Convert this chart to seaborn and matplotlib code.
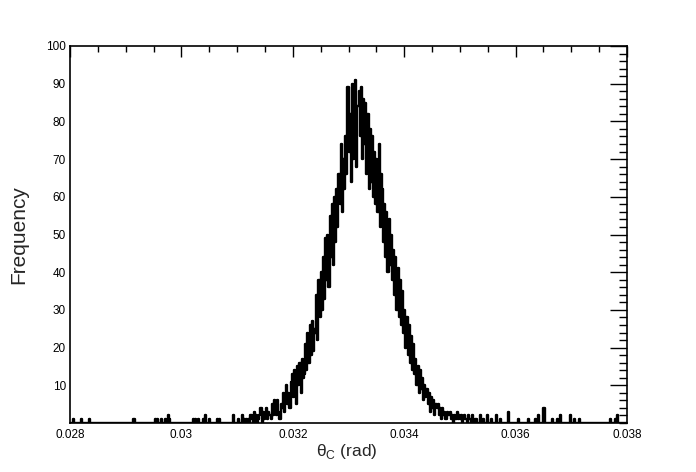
import numpy as np
import pandas as pd
import seaborn as sns
import matplotlib as mpl
from matplotlib import pyplot as plt
from matplotlib.ticker import MultipleLocator

sns.set_style("white")
mpl.rcParams["font.family"] = ["Liberation Sans", "DejaVu Sans"]

# histogram binning (rad)
X_MIN = 0.028
X_MAX = 0.038
BIN_WIDTH = 2e-5

# core of the distribution: consecutive bins starting at CORE_START
CORE_START = 0.0310
core_counts = [
    0, 1, 0, 0, 2, 0, 1, 0, 1, 0,
    1, 0, 2, 1, 0, 3, 0, 2, 0, 1,
    2, 4, 0, 3, 1, 2, 4, 1, 3, 2,
    1, 5, 2, 6, 3, 2, 6, 3, 1, 5,
    4, 8, 3, 7, 10, 5, 8, 4, 11, 13,
    7, 14, 9, 5, 15, 10, 16, 8, 17, 12,
    13, 21, 14, 24, 16, 26, 18, 27, 19, 25,
    24, 34, 22, 38, 28, 40, 30, 44, 33, 49,
    38, 50, 36, 55, 44, 58, 42, 60, 48, 62,
    52, 66, 58, 74, 56, 70, 62, 76, 66, 89,
    72, 82, 64, 90, 70, 86, 91, 68, 84, 88,
    76, 89, 70, 86, 74, 85, 66, 82, 62, 78,
    64, 76, 60, 72, 58, 70, 56, 74, 52, 66,
    62, 48, 58, 44, 56, 40, 54, 42, 50, 38,
    46, 34, 44, 30, 41, 28, 38, 26, 35, 24,
    30, 20, 28, 18, 26, 16, 23, 14, 21, 13,
    17, 10, 15, 8, 14, 9, 12, 6, 10, 7,
    9, 5, 8, 3, 7, 4, 6, 2, 5, 4,
    5, 2, 4, 1, 4, 2, 3, 1, 3, 2,
    2, 3, 1, 2, 0, 2, 1, 3, 1, 2,
    1, 2, 0, 1, 2, 1, 0, 2, 1, 1,
]

# isolated entries in the tails
tail_theta = [
    0.02807, 0.02821, 0.02834, 0.02916, 0.02953, 0.02958, 0.02965,
    0.02971, 0.02976, 0.02980, 0.03020, 0.03026, 0.03032, 0.03039,
    0.03044, 0.03051, 0.03064, 0.03069, 0.03093,
    0.03524, 0.03529, 0.03536, 0.03543, 0.03550, 0.03558, 0.03565,
    0.03572, 0.03586, 0.03604, 0.03622, 0.03635, 0.03640, 0.03651,
    0.03667, 0.03674, 0.03681, 0.03699, 0.03705, 0.03716, 0.03771,
    0.03778, 0.03784,
]
tail_counts = [
    1, 1, 1, 1, 1, 1, 1,
    1, 2, 1, 1, 1, 1, 1,
    2, 1, 1, 1, 2,
    2, 1, 2, 1, 2, 1, 2,
    1, 3, 1, 1, 1, 2, 4,
    1, 1, 2, 2, 1, 1, 1,
    1, 2,
]

x_ticks = [0.028, 0.030, 0.032, 0.034, 0.036, 0.038]
x_tick_labels = ["0.028", "0.03", "0.032", "0.034", "0.036", "0.038"]
y_ticks = [10, 20, 30, 40, 50, 60, 70, 80, 90, 100]

# build binned table
n_bins = int(round((X_MAX - X_MIN) / BIN_WIDTH))
edges = np.linspace(X_MIN, X_MAX, n_bins + 1)
counts = np.zeros(n_bins)
start = int(round((CORE_START - X_MIN) / BIN_WIDTH))
counts[start:start + len(core_counts)] = core_counts
for theta, c in zip(tail_theta, tail_counts):
    counts[int((theta - X_MIN) / BIN_WIDTH)] += c

df = pd.DataFrame({
    "theta": 0.5 * (edges[:-1] + edges[1:]),
    "count": counts,
})

fig = plt.figure(figsize=(6.96, 4.72), dpi=100)
ax = fig.add_axes([70 / 696, 49 / 472, 557 / 696, 377 / 472])

sns.histplot(
    data=df,
    x="theta",
    weights="count",
    bins=n_bins,
    binrange=(X_MIN, X_MAX),
    element="step",
    fill=False,
    color="black",
    linewidth=1.7,
    ax=ax,
)

ax.set_xlim(X_MIN, X_MAX)
ax.set_ylim(0, 100)
ax.set_xticks(x_ticks)
ax.set_xticklabels(x_tick_labels)
ax.set_yticks(y_ticks)
ax.xaxis.set_minor_locator(MultipleLocator(0.0005))
ax.yaxis.set_minor_locator(MultipleLocator(2))

ax.tick_params(which="both", direction="in", top=True, right=True,
               labelsize=8.5, width=1, colors="black")
ax.tick_params(axis="x", which="major", length=8, pad=4)
ax.tick_params(axis="x", which="minor", length=4)
ax.tick_params(axis="y", which="major", length=12, pad=3)
ax.tick_params(axis="y", which="minor", length=6)

for spine in ax.spines.values():
    spine.set_color("black")
    spine.set_linewidth(1.2)

ax.set_xlabel("θ$_{\\mathregular{C}}$ (rad)", fontsize=12.5)
ax.xaxis.set_label_coords(0.497, -0.05)
ax.set_ylabel("Frequency", fontsize=15)
ax.yaxis.set_label_coords(-0.075, 0.5)

plt.savefig("out.png", dpi=100)
